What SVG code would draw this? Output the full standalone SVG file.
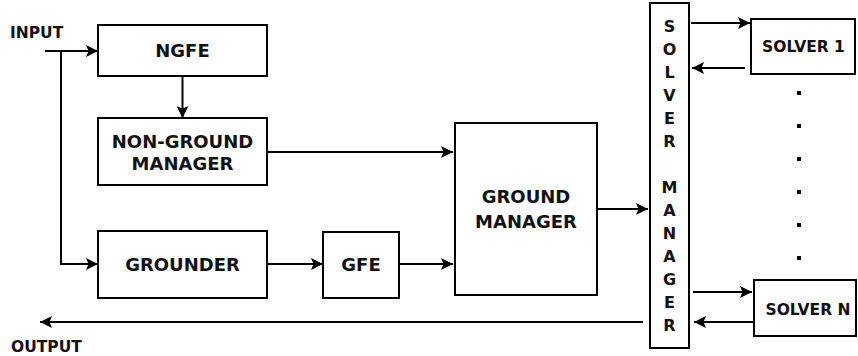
<svg xmlns="http://www.w3.org/2000/svg" width="858" height="356" viewBox="0 0 858 356">
<style>
.box{fill:#fff;stroke:#000;stroke-width:2}
.t{font-family:"DejaVu Sans",Verdana,sans-serif;font-weight:bold;fill:#111;text-anchor:middle}
.lbl{font-size:18px}
.sl{font-size:15.5px}
.sm{font-size:16px}
.io{font-family:"DejaVu Sans",Verdana,sans-serif;font-weight:bold;fill:#111;font-size:15.5px}
.c{fill:none;stroke:#000;stroke-width:2}
</style>
<defs>
<marker id="ah" markerUnits="userSpaceOnUse" markerWidth="13" markerHeight="12" refX="12" refY="6" orient="auto">
<path d="M0,0 L12,6 L0,12 L2.5,6 Z" fill="#000"/>
</marker>
</defs>
<rect width="858" height="356" fill="#fff"/>
<text class="io" x="10" y="37.5">INPUT</text>
<text class="io" x="11" y="351.5">OUTPUT</text>
<g id="connectors">
<path class="c" d="M45,51 H98" marker-end="url(#ah)"/>
<path class="c" d="M61,51 V264 H98" marker-end="url(#ah)"/>
<path class="c" d="M182.5,76 V118" marker-end="url(#ah)"/>
<path class="c" d="M267,152 H453" marker-end="url(#ah)"/>
<path class="c" d="M267,264 H323" marker-end="url(#ah)"/>
<path class="c" d="M399,264 H453" marker-end="url(#ah)"/>
<path class="c" d="M597,209 H648" marker-end="url(#ah)"/>
<path class="c" d="M691,23 H750" marker-end="url(#ah)"/>
<path class="c" d="M745,68 H692" marker-end="url(#ah)"/>
<path class="c" d="M693,292 H752" marker-end="url(#ah)"/>
<path class="c" d="M754,322 H694" marker-end="url(#ah)"/>
<path class="c" d="M643,322 H40" marker-end="url(#ah)"/>
</g>
<g id="ngfe"><rect class="box" x="98" y="25" width="169" height="51"/><text class="t lbl" x="182.5" y="57">NGFE</text></g>
<g id="non-ground-manager"><rect class="box" x="98" y="118" width="169" height="67"/><text class="t lbl" x="182.5" y="147.5">NON-GROUND</text><text class="t lbl" x="182.5" y="169.5">MANAGER</text></g>
<g id="grounder"><rect class="box" x="98" y="231" width="169" height="67"/><text class="t lbl" x="182.5" y="271">GROUNDER</text></g>
<g id="gfe"><rect class="box" x="323" y="232" width="76" height="66"/><text class="t lbl" x="361" y="271">GFE</text></g>
<g id="ground-manager"><rect class="box" x="455" y="123" width="142" height="172"/><text class="t lbl" x="526" y="203">GROUND</text><text class="t lbl" x="526" y="228">MANAGER</text></g>
<g id="solver-manager"><rect class="box" x="650" y="3" width="39" height="345"/>
<text class="t sm" x="669.5" y="32">S</text>
<text class="t sm" x="669.5" y="55">O</text>
<text class="t sm" x="669.5" y="78">L</text>
<text class="t sm" x="669.5" y="101">V</text>
<text class="t sm" x="669.5" y="124">E</text>
<text class="t sm" x="669.5" y="147">R</text>
<text class="t sm" x="669.5" y="193">M</text>
<text class="t sm" x="669.5" y="216">A</text>
<text class="t sm" x="669.5" y="239">N</text>
<text class="t sm" x="669.5" y="262">A</text>
<text class="t sm" x="669.5" y="285">G</text>
<text class="t sm" x="669.5" y="308">E</text>
<text class="t sm" x="669.5" y="331">R</text>
</g>
<g id="solver-1"><rect class="box" x="751" y="19" width="104" height="55"/><text class="t sl" x="803.5" y="52">SOLVER 1</text></g>
<g id="solver-n"><rect class="box" x="754" y="280" width="102" height="56"/><text class="t sl" x="808" y="315">SOLVER N</text></g>
<g id="dots" fill="#000">
<rect x="797" y="91" width="4" height="4"/>
<rect x="797" y="124" width="4" height="4"/>
<rect x="797" y="157" width="4" height="4"/>
<rect x="797" y="190" width="4" height="4"/>
<rect x="797" y="223" width="4" height="4"/>
<rect x="797" y="256" width="4" height="4"/>
</g>
</svg>
